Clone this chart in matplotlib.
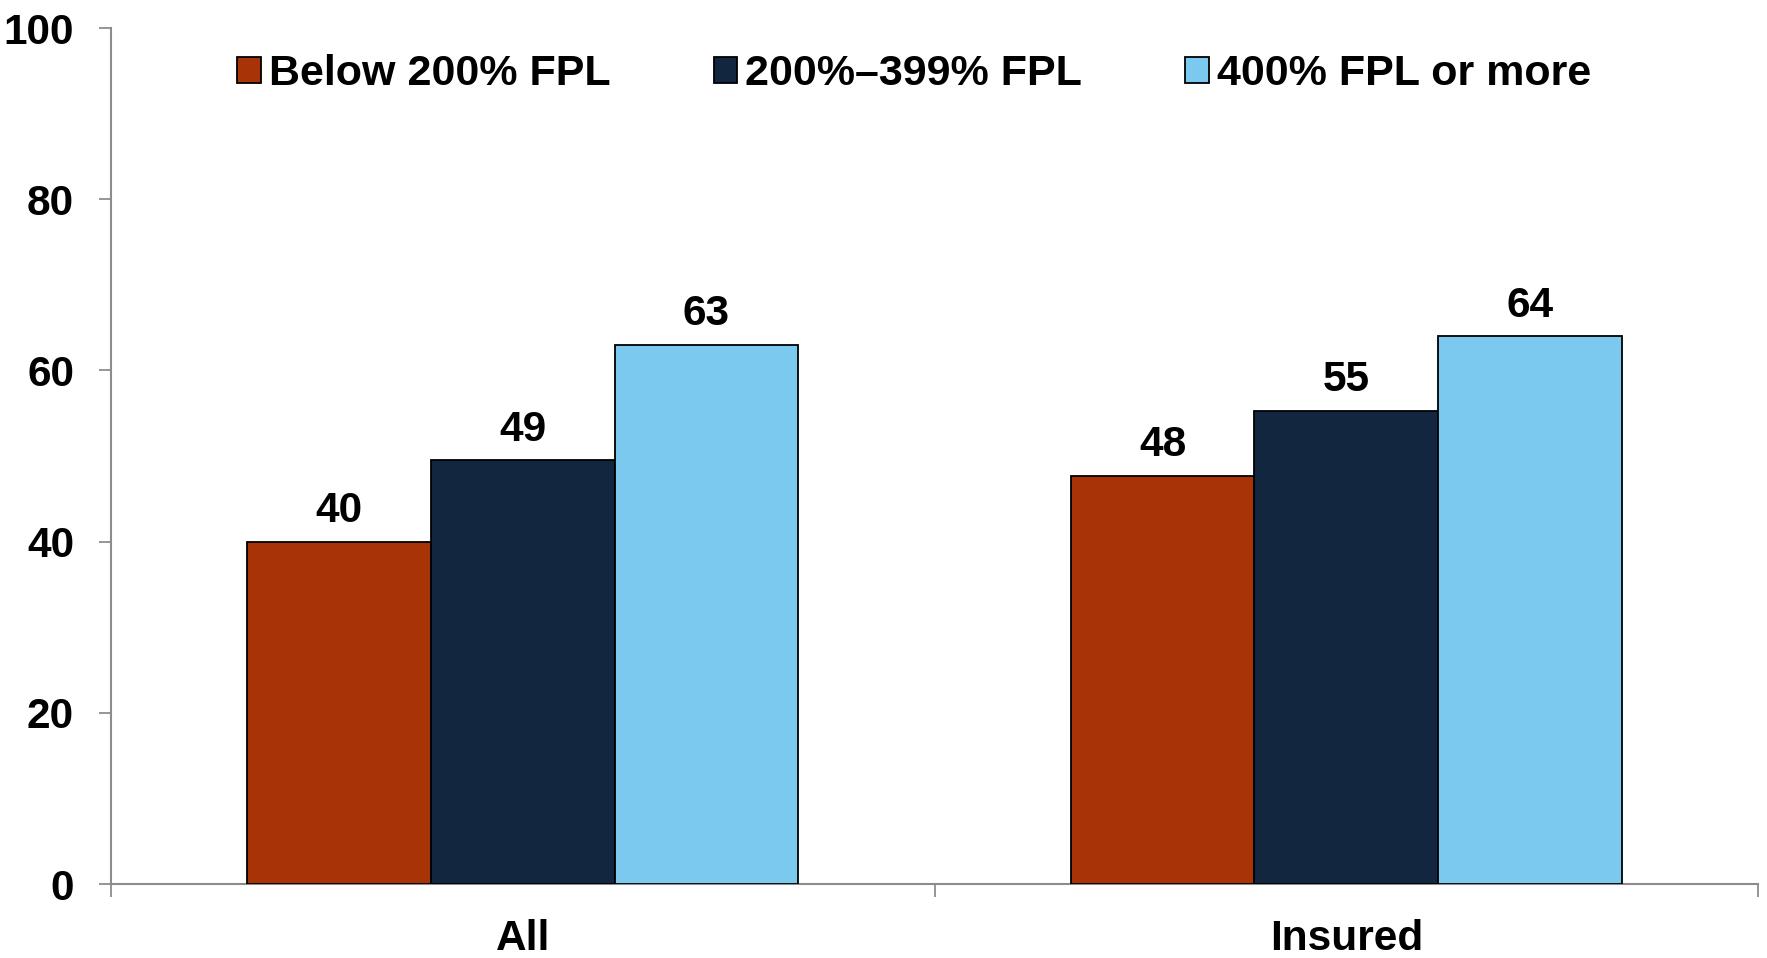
import matplotlib
matplotlib.use("Agg")
import matplotlib.pyplot as plt
import numpy as np

categories = ["All", "Insured"]
series_names = ["Below 200% FPL", "200%\u2013399% FPL", "400% FPL or more"]
below_200 = [40, 47.7]
mid_200_399 = [49.5, 55.3]
above_400 = [63, 64]
label_below_200 = ["40", "48"]
label_mid = ["49", "55"]
label_above_400 = ["63", "64"]
y_ticks = [0, 20, 40, 60, 80, 100]

colors = ["#A83306", "#12263F", "#7BC9EE"]

plt.rcParams['font.family'] = ['Liberation Sans', 'DejaVu Sans']
plt.rcParams['font.weight'] = 'bold'

FS = 30.5

fig = plt.figure(figsize=(17.67, 9.58), dpi=100)
ax = fig.add_axes([111/1767, 1-884/958, (1758-111)/1767, (884-28)/958])

x = np.arange(len(categories))
w = 0.223
series = [below_200, mid_200_399, above_400]
labels = [label_below_200, label_mid, label_above_400]
for i, (vals, labs) in enumerate(zip(series, labels)):
    xs = x + (i - 1) * w
    ax.bar(xs, vals, width=w, color=colors[i], edgecolor="black",
           linewidth=1.3, label=series_names[i], zorder=3)
    for xi, v, t in zip(xs, vals, labs):
        ax.annotate(t, (xi, v), xytext=(0, 14), textcoords="offset points",
                    ha="center", va="baseline", fontsize=FS, fontweight="bold")

ax.set_xlim(-0.5, 1.5)
ax.set_ylim(0, 100)
ax.set_yticks(y_ticks)
ax.set_yticklabels([str(t) for t in y_ticks])
ax.set_xticks(x)
ax.set_xticklabels(categories)
ax.set_xticks([-0.5, 0.5, 1.5], minor=True)
ax.tick_params(axis='x', which='major', length=0, pad=25, labelsize=FS)
ax.tick_params(axis='x', which='minor', length=9, width=1.3, color="#8C8C8C", direction='out')
ax.tick_params(axis='y', which='major', length=8.6, width=1.3, color="#8C8C8C", pad=18, labelsize=FS)

for s in ["top", "right"]:
    ax.spines[s].set_visible(False)
for s in ["left", "bottom"]:
    ax.spines[s].set_color("#8C8C8C")
    ax.spines[s].set_linewidth(1.5)

ax.legend(loc="center", bbox_to_anchor=(914/1767, 1-74/958),
          bbox_transform=fig.transFigure, ncol=3, frameon=False,
          fontsize=FS + 0.5, handlelength=0.55, handleheight=0.55,
          handletextpad=0.18, columnspacing=2.4, borderpad=0)

fig.savefig("out.png", dpi=100)
